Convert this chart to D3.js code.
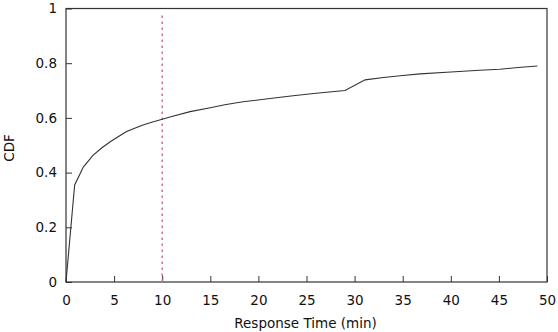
<!DOCTYPE html>
<html>
<head>
<meta charset="utf-8">
<script src="https://cdn.jsdelivr.net/npm/d3@7"></script>
<style>
body { margin: 0; background: #fff; }
text { font-family: "DejaVu Sans", Verdana, sans-serif; font-size: 13.5px; fill: #111; }
</style>
</head>
<body>
<script>
// response time (min) vs cdf
var times = [0, 0.9, 1.8, 2.8, 3.7, 4.6, 5.5, 6.3, 7.2, 8, 9, 10, 11, 12.9, 15, 16.5, 18.4, 21, 23.6, 26, 29, 31.1, 33, 35, 36.8, 40, 43, 45.1, 47, 49];
var cdf = [0, 0.355, 0.42, 0.463, 0.49, 0.513, 0.533, 0.55, 0.563, 0.574, 0.585, 0.595, 0.605, 0.623, 0.637, 0.648, 0.659, 0.67, 0.681, 0.69, 0.7, 0.739, 0.748, 0.755, 0.761, 0.768, 0.774, 0.778, 0.784, 0.79];
var xTicks = [0, 5, 10, 15, 20, 25, 30, 35, 40, 45, 50];
var yTicks = [0, 0.2, 0.4, 0.6, 0.8, 1];
var cutoff = 10;

var W = 558, H = 332;
var m = { left: 66, right: 547, top: 8.5, bottom: 282 };

var svg = d3.select("body").append("svg")
    .attr("width", W)
    .attr("height", H);

var x = d3.scaleLinear().domain([0, 50]).range([m.left, m.right]);
var y = d3.scaleLinear().domain([0, 1]).range([m.bottom, m.top]);

// axes, ticks pointing inward
var xAxis = svg.append("g")
    .attr("transform", "translate(0," + m.bottom + ")")
    .call(d3.axisBottom(x).tickValues(xTicks).tickSizeInner(-6).tickSizeOuter(0).tickPadding(13).tickFormat(d3.format("d")));
var yAxis = svg.append("g")
    .attr("transform", "translate(" + m.left + ",0)")
    .call(d3.axisLeft(y).tickValues(yTicks).tickSizeInner(-6).tickSizeOuter(0).tickPadding(9).tickFormat(function (d) { return String(d); }));

svg.selectAll(".domain").remove();
svg.selectAll(".tick line").attr("stroke", "#333");
xAxis.selectAll("text").attr("font-size", 13.5).attr("fill", "#111");
yAxis.selectAll("text").attr("font-size", 13.5).attr("fill", "#111");

// frame
svg.append("rect")
    .attr("x", m.left)
    .attr("y", m.top)
    .attr("width", m.right - m.left)
    .attr("height", m.bottom - m.top)
    .attr("fill", "none")
    .attr("stroke", "#333")
    .attr("stroke-width", 1.2);

// dotted cutoff line
svg.append("line")
    .attr("x1", x(cutoff)).attr("x2", x(cutoff))
    .attr("y1", y(0)).attr("y2", y(0.985))
    .attr("stroke", "#dc6f8c")
    .attr("stroke-width", 1.5)
    .attr("stroke-dasharray", "2.5,3.5");

var pts = times.map(function (t, i) { return [t, cdf[i]]; });
svg.append("path")
    .datum(pts)
    .attr("fill", "none")
    .attr("stroke", "#333")
    .attr("stroke-width", 1.1)
    .attr("d", d3.line().x(function (d) { return x(d[0]); }).y(function (d) { return y(d[1]); }));

svg.append("text")
    .attr("x", (m.left + m.right) / 2 - 1)
    .attr("y", 328)
    .attr("text-anchor", "middle")
    .text("Response Time (min)");

svg.append("text")
    .attr("transform", "translate(14,148) rotate(-90)")
    .attr("text-anchor", "middle")
    .text("CDF");
</script>
</body>
</html>
